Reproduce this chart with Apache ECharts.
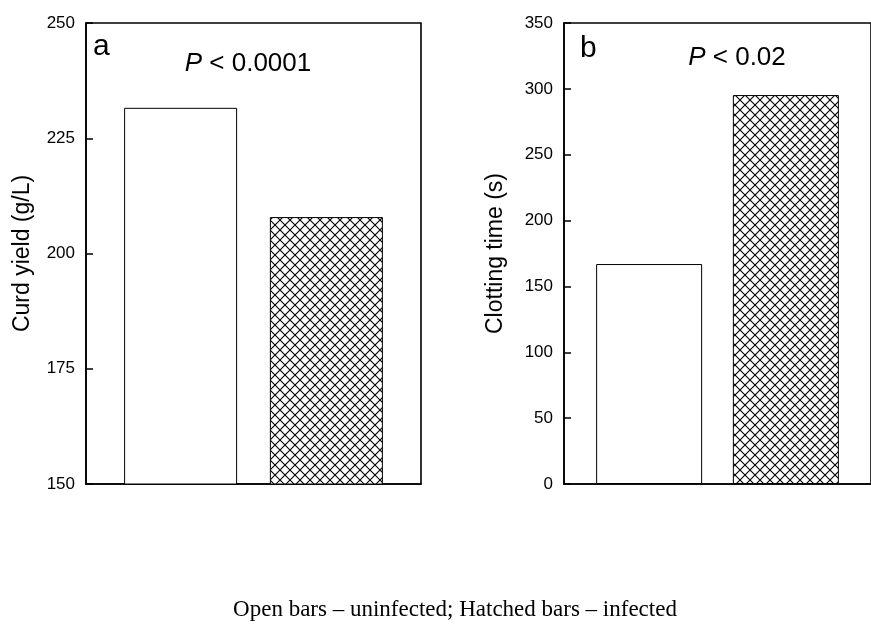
<!DOCTYPE html>
<html>
<head>
<meta charset="utf-8">
<script src="https://cdn.jsdelivr.net/npm/echarts@6/dist/echarts.min.js"></script>
<style>
html,body{margin:0;padding:0;background:#fff;}
#chart{width:871px;height:630px;}
</style>
</head>
<body>
<div id="chart"></div>
<script>
// ---- data ----
const groups = ['Uninfected', 'Infected'];
const curdYield = [231.6, 207.9];      // g/L, panel a
const clottingTime = [167, 295.3];     // s, panel b
const yTicksA = [150, 175, 200, 225, 250];
const yTicksB = [0, 50, 100, 150, 200, 250, 300, 350];
const pTextA = '0.0001';
const pTextB = '0.02';
const caption = 'Open bars \u2013 uninfected; Hatched bars \u2013 infected';

// hatch pattern
function makeHatch() {
  const c = document.createElement('canvas');
  c.width = 10; c.height = 10;
  const g = c.getContext('2d');
  g.fillStyle = '#fff'; g.fillRect(0, 0, 10, 10);
  g.strokeStyle = '#000'; g.lineWidth = 1.1;
  g.beginPath();
  g.moveTo(0, 0); g.lineTo(10, 10);
  g.moveTo(10, 0); g.lineTo(0, 10);
  g.stroke();
  return c;
}
const hatch = { image: makeHatch(), repeat: 'repeat' };

const chart = echarts.init(document.getElementById('chart'), null, { renderer: 'canvas' });

function yAxisCfg(gridIndex, ticks, name, nameGap) {
  return {
    type: 'value', gridIndex: gridIndex,
    min: ticks[0], max: ticks[ticks.length - 1],
    interval: ticks[1] - ticks[0],
    name: name, nameLocation: 'middle', nameGap: nameGap,
    nameTextStyle: { fontFamily: 'Liberation Sans, Arial', fontSize: 23, color: '#000' },
    axisLine: { show: true, lineStyle: { color: '#000', width: 1.6 } },
    axisTick: { show: true, inside: true, length: 7, lineStyle: { color: '#000', width: 1.5 } },
    axisLabel: { color: '#000', fontFamily: 'Liberation Sans, Arial', fontSize: 17, margin: 11 },
    splitLine: { show: false }
  };
}
function xAxisCfg(gridIndex) {
  return {
    type: 'category', gridIndex: gridIndex, data: [''],
    axisLine: { show: true, lineStyle: { color: '#000', width: 1.6 } },
    axisTick: { show: false }, axisLabel: { show: false }
  };
}
function barSeries(axisIdx, values, barWidth) {
  return [
    { type: 'bar', xAxisIndex: axisIdx, yAxisIndex: axisIdx, name: groups[0],
      data: [values[0]], barWidth: barWidth, barGap: '29%',
      itemStyle: { color: '#fff', borderColor: '#000', borderWidth: 1 } },
    { type: 'bar', xAxisIndex: axisIdx, yAxisIndex: axisIdx, name: groups[1],
      data: [values[1]], barWidth: barWidth, barGap: '29%',
      itemStyle: { color: hatch, borderColor: '#000', borderWidth: 1 } }
  ];
}

const option = {
  backgroundColor: '#fff',
  animation: false,
  grid: [
    { left: 86, top: 23, width: 335, height: 461, show: true, borderColor: '#000', borderWidth: 1.6, backgroundColor: 'transparent' },
    { left: 564, top: 23, width: 317, height: 461, show: true, borderColor: '#000', borderWidth: 1.6, backgroundColor: 'transparent' }
  ],
  xAxis: [xAxisCfg(0), xAxisCfg(1)],
  yAxis: [yAxisCfg(0, yTicksA, 'Curd yield (g/L)', 52), yAxisCfg(1, yTicksB, 'Clotting time (s)', 57)],
  series: [].concat(barSeries(0, curdYield, 113), barSeries(1, clottingTime, 106)),
  graphic: [
    { type: 'text', x: 93, y: 47, style: { text: 'a', textVerticalAlign: 'middle', font: '30px "Liberation Sans", Arial', fill: '#000' } },
    { type: 'text', x: 580, y: 49, style: { text: 'b', textVerticalAlign: 'middle', font: '30px "Liberation Sans", Arial', fill: '#000' } },
    { type: 'text', x: 248, y: 64, style: {
        text: '{i|P} < ' + pTextA, textAlign: 'center', textVerticalAlign: 'middle',
        font: '26px "Liberation Sans", Arial', fill: '#000',
        rich: { i: { fontStyle: 'italic', fontSize: 26, fontFamily: 'Liberation Sans' } } } },
    { type: 'text', x: 737, y: 58, style: {
        text: '{i|P} < ' + pTextB, textAlign: 'center', textVerticalAlign: 'middle',
        font: '26px "Liberation Sans", Arial', fill: '#000',
        rich: { i: { fontStyle: 'italic', fontSize: 26, fontFamily: 'Liberation Sans' } } } },
    { type: 'text', x: 455, y: 610, style: {
        text: caption, textAlign: 'center', textVerticalAlign: 'middle',
        font: '23px "Liberation Serif", "Times New Roman", serif', fill: '#000' } }
  ]
};
chart.setOption(option);
</script>
</body>
</html>
